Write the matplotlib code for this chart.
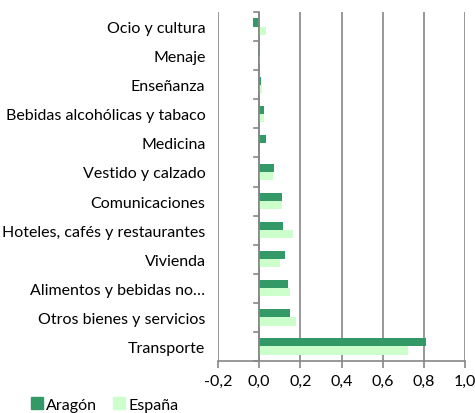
import matplotlib
matplotlib.use("Agg")
import matplotlib.pyplot as plt
import numpy as np
from matplotlib.patches import Rectangle

plt.rcParams['font.family'] = ['Lato', 'DejaVu Sans']

categories = ["Ocio y cultura", "Menaje", "Enseñanza", "Bebidas alcohólicas y tabaco",
              "Medicina", "Vestido y calzado", "Comunicaciones",
              "Hoteles, cafés y restaurantes", "Vivienda", "Alimentos y bebidas no…",
              "Otros bienes y servicios", "Transporte"]
aragon = [-0.03, -0.004, 0.008, 0.024, 0.033, 0.073, 0.11, 0.118, 0.127, 0.141, 0.15, 0.81]
espana = [0.033, 0.005, 0.016, 0.022, -0.002, 0.065, 0.11, 0.166, 0.102, 0.15, 0.18, 0.724]
xticks = [-0.2, 0.0, 0.2, 0.4, 0.6, 0.8, 1.0]
xticklabels = ["-0,2", "0,0", "0,2", "0,4", "0,6", "0,8", "1,0"]
series_names = ["Aragón", "España"]

c_ar = "#339966"
c_es = "#CCFFCC"
grid_c = "#868686"
fs = 11.5

fig = plt.figure(figsize=(4.75, 4.14), dpi=100)
ax = fig.add_axes([218/475, 1-362/414, (465-218)/475, (362-13)/414])

n = len(categories)
y = np.arange(n)
h = 0.28
ax.barh(y - h/2, aragon, height=h, color=c_ar, zorder=3)
ax.barh(y + h/2, espana, height=h, color=c_es, zorder=3)

ax.set_ylim(n - 0.5, -0.5)
ax.set_xlim(-0.2, 1.0)
ax.set_xticks(xticks)
ax.set_xticklabels(xticklabels, fontsize=fs)
ax.set_yticks(y)
ax.set_yticklabels(categories, fontsize=fs)
ax.tick_params(axis='y', length=0, pad=9)
ax.tick_params(axis='x', length=5, width=1.2, color=grid_c, direction='out', pad=4)

for s in ['top', 'right', 'left']:
    ax.spines[s].set_visible(False)
ax.spines['bottom'].set_color(grid_c)
ax.spines['bottom'].set_linewidth(1.2)

for xt in xticks:
    ax.axvline(xt, color=grid_c, lw=1.2, zorder=1)

# category axis at 0 with tick marks at boundaries
ax.axvline(0, color=grid_c, lw=1.2, zorder=4)
for b in np.arange(-0.5, n, 1.0):
    ax.plot([-0.024, 0], [b, b], color=grid_c, lw=1.2, zorder=4, clip_on=False)

# legend
handles = [Rectangle((0, 0), 1, 1, color=c_ar), Rectangle((0, 0), 1, 1, color=c_es)]
fig.legend(handles, series_names, loc='lower left', bbox_to_anchor=(0.035, -0.032),
           ncol=2, frameon=False, fontsize=fs, handlelength=0.75, handleheight=0.75,
           handletextpad=0.2, columnspacing=1.0)

fig.savefig("out.png", dpi=100)
